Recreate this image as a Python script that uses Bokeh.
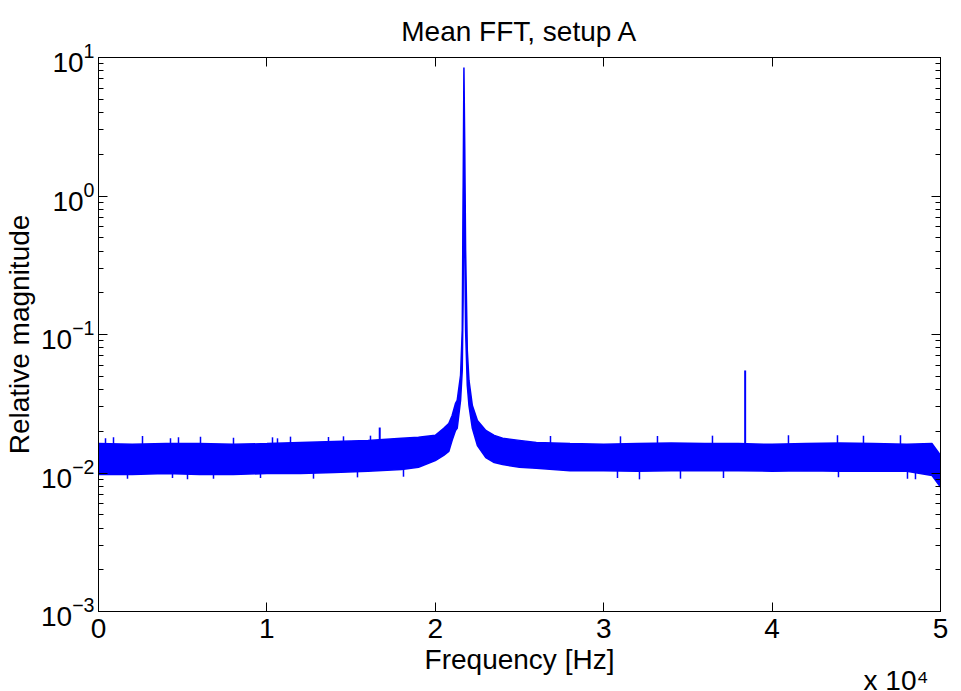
from bokeh.plotting import figure
from bokeh.models import (LinearAxis, LogAxis, FixedTicker, LogTicker, Title,
                          ColumnDataSource, Range1d, CustomJSTickFormatter)
from bokeh.embed import file_html
from bokeh.resources import INLINE

# ---- data ----
freq_hz = [0, 2000, 4000, 6000, 8000, 10000, 12000, 14000, 16000, 18000, 19000,
           20000, 20500, 20800, 21000, 21200, 21300, 21500, 21600, 21650, 21700,
           21750, 21800, 21900, 22000, 22200, 22500, 23000, 23500, 24000, 25000,
           26000, 28000, 30000, 32000, 34000, 36000, 38000, 40000, 42000, 44000,
           46000, 48000, 49500, 50000]
upper_mag = [0.0163, 0.0161, 0.0163, 0.0163, 0.0161, 0.0163, 0.0166, 0.0169, 0.0172,
             0.0178, 0.0181, 0.0187, 0.0210, 0.0228, 0.0260, 0.0318, 0.0334, 0.0506,
             0.107, 0.93, 8.47, 2.13, 0.404, 0.0766, 0.0466, 0.0307, 0.0239, 0.0203,
             0.0187, 0.0178, 0.0172, 0.0166, 0.0163, 0.0161, 0.0163, 0.0165, 0.0163,
             0.0163, 0.0161, 0.0163, 0.0165, 0.0163, 0.0161, 0.0163, 0.0134]
lower_mag = [0.00975, 0.00975, 0.00991, 0.00975, 0.00975, 0.00991, 0.0099, 0.0101,
             0.0103, 0.0106, 0.0110, 0.0123, 0.0134, 0.0143, 0.0172, 0.0203, 0.0210,
             0.0334, 0.055, 0.176, 2.13, 0.404, 0.107, 0.0428, 0.0307, 0.0210, 0.0158,
             0.0129, 0.0119, 0.0115, 0.0110, 0.0108, 0.0104, 0.0104, 0.0103, 0.0104,
             0.0104, 0.0104, 0.0103, 0.0104, 0.0103, 0.0103, 0.0103, 0.0096, 0.0079]
# isolated narrow peaks (frequency, top value)
peak_hz = [16700, 38400]
peak_top = [0.0213, 0.055]
peak_base = [0.0163, 0.0163]
# tallest noise excursions above / below the band
noise_up_hz = [416, 891, 2613, 4275, 4750, 6057, 8016, 10332, 10629, 11401, 13657,
               14548, 16151, 26840, 30996, 33193, 36459, 40972, 43882, 45426, 47623]
noise_up_mag = [0.0178, 0.0181, 0.0185, 0.0178, 0.0181, 0.0183, 0.0180, 0.0181,
                0.0178, 0.0183, 0.0182, 0.0184, 0.0186, 0.0185, 0.0184, 0.0185,
                0.0186, 0.0187, 0.0187, 0.0186, 0.0187]
noise_dn_hz = [1722, 4394, 5285, 6829, 9620, 12767, 15379, 18111, 30818, 32124,
               34559, 37113, 43941, 48039, 48514]
noise_dn_mag = [0.0091, 0.0092, 0.0090, 0.0091, 0.0092, 0.0091, 0.0093, 0.0094,
                0.0092, 0.0090, 0.0091, 0.0092, 0.0093, 0.0091, 0.0090]

x_ticks = [0, 10000, 20000, 30000, 40000, 50000]
x_tick_labels = ["0", "1", "2", "3", "4", "5"]

BLUE = "#0000ff"
FONT = "Liberation Sans"
FS = "28px"

p = figure(frame_width=842, frame_height=554, y_axis_type="log",
           x_range=Range1d(0, 50000), y_range=Range1d(1e-3, 10),
           output_backend="svg", toolbar_location=None,
           title="Mean FFT, setup A",
           min_border_left=98, min_border_right=20, min_border_top=57,
           min_border_bottom=79)
p.background_fill_color = "white"
p.border_fill_color = "white"
p.outline_line_color = "black"
p.outline_line_width = 1
p.grid.visible = False

p.title.text_font = FONT
p.title.text_font_size = "28px"
p.title.text_font_style = "normal"
p.title.align = "center"
p.title.text_color = "black"
p.title.standoff = 22

src = ColumnDataSource(dict(f=freq_hz, up=upper_mag, lo=lower_mag))
p.varea(x="f", y1="lo", y2="up", source=src, fill_color=BLUE, fill_alpha=1.0)
p.line(x="f", y="up", source=src, line_color=BLUE, line_width=1.5)
p.line(x="f", y="lo", source=src, line_color=BLUE, line_width=1.5)
p.segment(x0=peak_hz, y0=peak_base, x1=peak_hz, y1=peak_top,
          line_color=BLUE, line_width=2)
p.segment(x0=noise_up_hz, y0=[0.015] * len(noise_up_hz), x1=noise_up_hz,
          y1=noise_up_mag, line_color=BLUE, line_width=1.5)
p.segment(x0=noise_dn_hz, y0=[0.011] * len(noise_dn_hz), x1=noise_dn_hz,
          y1=noise_dn_mag, line_color=BLUE, line_width=1.5)


def style_axis(ax, labels=True):
    ax.axis_line_color = "black"
    ax.major_tick_line_color = "black"
    ax.minor_tick_line_color = "black"
    ax.major_tick_in = 9
    ax.major_tick_out = 0
    ax.minor_tick_in = 5
    ax.minor_tick_out = 0
    ax.major_label_text_font = FONT
    ax.major_label_text_font_size = FS
    ax.major_label_text_color = "black"
    ax.axis_label_text_font = FONT
    ax.axis_label_text_font_size = FS
    ax.axis_label_text_font_style = "normal"
    ax.axis_label_text_color = "black"
    if not labels:
        ax.formatter = CustomJSTickFormatter(code="return ''")
        ax.major_label_standoff = 0


xa = p.xaxis[0]
xa.ticker = FixedTicker(ticks=x_ticks)
xa.major_label_overrides = {t: l for t, l in zip(x_ticks, x_tick_labels)}
xa.axis_label = "Frequency [Hz]"
style_axis(xa)
xa.major_label_standoff = 7
xa.axis_label_standoff = 3

ya = p.yaxis[0]
ya.ticker = LogTicker(num_minor_ticks=10)
ya.axis_label = "Relative magnitude"
style_axis(ya)
ya.major_label_standoff = 4
ya.axis_label_standoff = 3

top = LinearAxis(ticker=FixedTicker(ticks=x_ticks))
style_axis(top, labels=False)
p.add_layout(top, "above")
right = LogAxis(ticker=LogTicker(num_minor_ticks=10))
style_axis(right, labels=False)
p.add_layout(right, "right")

mult = Title(text="x 10\u2074", align="right", text_font=FONT, text_font_size=FS,
             text_font_style="normal", text_color="black", standoff=-30, offset=12)
p.add_layout(mult, "below")

open("out.html", "w").write(file_html(p, INLINE))
